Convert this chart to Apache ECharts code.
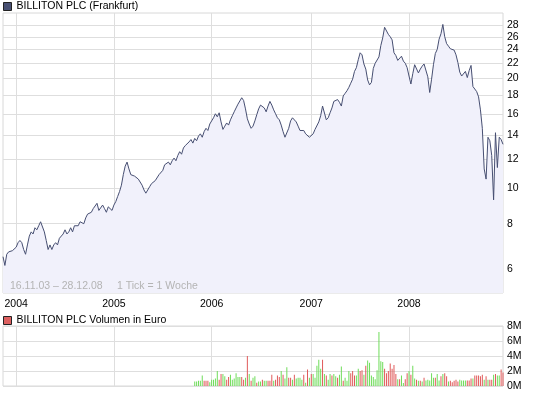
<!DOCTYPE html>
<html><head><meta charset="utf-8">
<script src="https://cdn.jsdelivr.net/npm/echarts@6/dist/echarts.min.js"></script>
<style>html,body{margin:0;padding:0;background:#fff}#c{width:545px;height:395px}</style>
</head><body><div id="c"></div>
<script>
// weekly closing prices (EUR), 16.11.03 – 28.12.08
const priceValues = [
 6.5,6.15,6.6,6.7,6.65,6.75,6.8,6.9,7.1,7.2,
 7.1,6.8,6.6,7.0,7.4,7.6,7.5,7.8,7.7,7.9,
 8.1,8.2,7.6,7.2,6.8,7.0,6.8,7.0,7.1,7.0,
 7.3,7.3,7.5,7.7,7.5,7.6,7.8,7.6,7.9,8.0,
 7.9,8.1,8.2,8.0,8.3,8.5,8.4,8.6,8.8,8.9,
 9.1,8.7,8.8,9.0,8.8,8.6,8.9,8.8,8.7,9.0,
 9.2,9.5,9.8,10.2,10.9,11.5,11.8,11.3,10.9,11.0,
 10.8,10.9,10.6,10.5,10.2,9.9,9.7,9.8,10.1,10.3,
 10.2,10.5,10.6,10.9,10.8,11.2,11.6,11.5,11.8,11.6,
 11.9,12.1,11.9,12.3,12.6,12.4,12.9,13.1,13.0,13.4,
 13.6,13.3,13.7,13.5,13.9,14.1,13.8,14.3,14.6,14.4,
 15.0,15.3,15.6,16.0,15.7,16.1,15.2,14.5,14.8,15.1,
 14.9,15.4,15.8,16.2,16.6,17.0,17.2,17.7,17.4,16.5,
 15.5,15.0,14.6,14.8,15.3,15.9,16.5,16.9,17.1,16.6,
 16.2,16.8,17.3,16.9,16.4,16.0,15.6,15.4,14.9,14.3,
 13.8,13.9,14.6,15.3,15.6,15.7,15.2,14.8,14.4,14.5,
 14.4,14.1,14.0,13.8,13.7,14.1,14.5,14.6,15.2,15.8,
 16.8,16.6,15.4,15.6,16.1,16.6,17.3,17.4,17.5,17.2,
 16.8,17.9,18.2,18.5,18.9,19.4,19.9,20.9,21.4,22.5,
 23.5,23.2,21.9,21.2,19.8,19.2,19.5,21.3,22.0,21.8,
 22.9,24.6,25.8,27.6,27.3,26.4,26.0,25.5,23.5,23.1,
 22.4,22.6,23.0,22.3,22.0,21.4,20.3,19.3,20.6,21.8,
 22.0,20.7,21.2,21.6,21.9,21.9,20.2,18.3,19.9,21.8,
 23.4,24.0,25.6,26.5,28.1,26.0,24.9,24.5,24.1,23.8,
 23.9,23.2,22.1,20.8,20.3,20.5,20.9,20.1,21.0,21.7,
 19.0,18.9,18.4,17.8,16.4,14.6,11.3,10.6,13.8,13.5,
 12.3,9.3,14.2,11.4,13.8,13.6,13.2
];
// weekly volume in million EUR (last weeks of the period)
const volumeValues = [
 0.6,0.6,0.7,0.7,1.4,0.7,0.7,0.7,0.5,0.85,
 0.85,1.0,2.0,0.85,1.6,1.6,1.3,0.85,1.2,1.5,
 0.85,1.0,1.7,1.2,1.2,1.2,0.85,1.1,4.0,1.6,
 0.7,1.1,1.3,0.45,0.6,0.6,0.85,0.7,0.7,
 0.7,0.7,1.5,0.7,0.85,1.4,1.2,2.0,1.5,1.0,
 2.5,1.1,1.1,0.85,1.5,1.0,1.1,1.1,0.85,1.5,
 0.45,2.2,1.1,1.6,1.6,1.1,2.7,3.5,2.3,3.5,
 1.6,1.4,0.85,1.6,1.4,1.6,1.3,1.1,1.5,
 2.6,0.7,1.1,0.7,2.0,1.7,2.0,1.4,1.4,2.3,
 2.0,2.1,1.5,2.7,3.4,3.1,1.4,1.2,0.9,2.1,
 7.2,3.3,3.2,2.3,1.7,2.0,3.0,2.3,2.8,1.6,
 0.9,0.9,1.4,0.4,0.9,1.7,2.0,1.5,2.7,1.0,
 0.85,0.7,0.7,0.6,1.1,0.75,0.85,0.75,1.7,
 1.1,1.1,1.6,0.75,1.3,1.6,1.7,1.3,0.6,0.7,
 0.5,0.7,0.85,0.6,0.85,0.75,0.75,0.75,0.75,0.75,
 1.0,1.0,1.4,1.4,1.4,1.3,1.5,0.85,1.3,0.85,
 0.85,0.85,1.5,1.6,1.4,1.4,2.2,1.8
];
// 1 = week up (green), 0 = week down (red)
const volumeUp = [
 1,1,1,1,1,0,0,0,1,1, 1,1,1,0,0,1,1,0,0,1, 1,1,1,1,1,0,0,1,0,1,
 0,1,1,0,1,1,0,1,1, 0,0,0,1,0,0,0,1,0,1, 1,0,0,1,0,1,1,1,1,0,
 1,0,1,0,1,1,1,1,1,0, 1,0,1,1,0,1,1,0,1, 1,0,1,1,1,0,0,0,1,1,
 0,0,1,0,1,1,1,1,1,1, 1,1,1,0,0,0,0,0,0,0, 1,0,1,1,0,0,1,0,1,1,
 0,1,0,1,0,1,1,1,1, 1,0,1,1,0,1,0,0,1,0, 0,0,0,0,1,1,1,1,0,0,
 0,1,0,0,0,0,0,1,0,1, 0,0,1,0,1,1,0,0
];
const priceTicks = [6,8,10,12,14,16,18,20,22,24,26,28];
const volumeTicks = [0,2,4,6,8];
const priceName = 'BILLITON PLC (Frankfurt)';
const volumeName = 'BILLITON PLC Volumen in Euro';

const FONT = 'Liberation Sans';
const FS = 10.5;
const GRID = '#dedede';
const GREEN = '#6fdc5a', RED = '#e05a5a';

const N = priceValues.length;
const dates = [];
for (let i = 0; i < N; i++) {
  dates.push(new Date(Date.UTC(2003, 10, 16) + i * 7 * 864e5).toISOString().slice(0, 10));
}
const yearStart = (i) => i > 0 && dates[i].slice(0, 4) !== dates[i - 1].slice(0, 4);
const pad = N - volumeValues.length;
const volData = dates.map((d, i) => i < pad ? '-' : {
  value: volumeValues[i - pad],
  itemStyle: { color: volumeUp[i - pad] ? GREEN : RED }
});

const chart = echarts.init(document.getElementById('c'), null, { renderer: 'canvas' });
const txt = { fontFamily: FONT, fontSize: FS, color: '#000' };
chart.setOption({
  animation: false,
  backgroundColor: '#fff',
  textStyle: { fontFamily: FONT },
  legend: [
    { data: [priceName], left: 3, top: 1, padding: 0, itemWidth: 8, itemHeight: 8, icon: 'rect',
      itemStyle: { borderColor: '#222', borderWidth: 1 }, textStyle: txt, selectedMode: false },
    { data: [volumeName], left: 3, top: 315, padding: 0, itemWidth: 8, itemHeight: 8, icon: 'rect',
      itemStyle: { borderColor: '#222', borderWidth: 1 }, textStyle: txt, selectedMode: false }
  ],
  grid: [
    { left: 3, right: 42, top: 13, height: 280, show: true, borderColor: '#d8d8d8', borderWidth: 1 },
    { left: 3, right: 42, top: 326, height: 60, show: true, borderColor: '#d8d8d8', borderWidth: 1 }
  ],
  xAxis: [
    { type: 'category', gridIndex: 0, data: dates, boundaryGap: false,
      axisLine: { show: false }, axisTick: { show: false },
      axisLabel: Object.assign({ interval: (i) => yearStart(i), formatter: (v) => v.slice(0, 4), margin: 6 }, txt),
      splitLine: { show: true, interval: (i) => yearStart(i), lineStyle: { color: GRID } } },
    { type: 'category', gridIndex: 1, data: dates, boundaryGap: false,
      axisLine: { show: false }, axisTick: { show: false }, axisLabel: { show: false },
      splitLine: { show: true, interval: (i) => yearStart(i), lineStyle: { color: GRID } } }
  ],
  yAxis: [
    { type: 'log', gridIndex: 0, position: 'right', min: 5.17, max: 30.2,
      axisLine: { show: false }, axisTick: { show: false, customValues: priceTicks },
      axisLabel: Object.assign({ customValues: priceTicks, margin: 4 }, txt),
      splitLine: { show: true, lineStyle: { color: GRID } } },
    { type: 'value', gridIndex: 1, position: 'right', min: 0, max: 8, interval: 2,
      axisLine: { show: false }, axisTick: { show: false },
      axisLabel: Object.assign({ formatter: '{value}M', margin: 4 }, txt),
      splitLine: { show: true, lineStyle: { color: GRID } } }
  ],
  graphic: [
    { type: 'text', left: 10, top: 281, style: { text: '16.11.03 – 28.12.08', fill: '#b4b4b4', font: FS + 'px "' + FONT + '"' }, z: 10 },
    { type: 'text', left: 117, top: 281, style: { text: '1 Tick = 1 Woche', fill: '#b4b4b4', font: FS + 'px "' + FONT + '"' }, z: 10 }
  ],
  series: [
    { name: priceName, type: 'line', xAxisIndex: 0, yAxisIndex: 0, data: priceValues,
      showSymbol: false, symbol: 'none', color: '#474f72',
      lineStyle: { color: '#474f72', width: 1 },
      areaStyle: { color: '#f1f1fb', opacity: 1, origin: 'start' } },
    { name: volumeName, type: 'bar', xAxisIndex: 1, yAxisIndex: 1, data: volData,
      barWidth: 1, color: '#dd6060' }
  ]
});
</script>
</body></html>
